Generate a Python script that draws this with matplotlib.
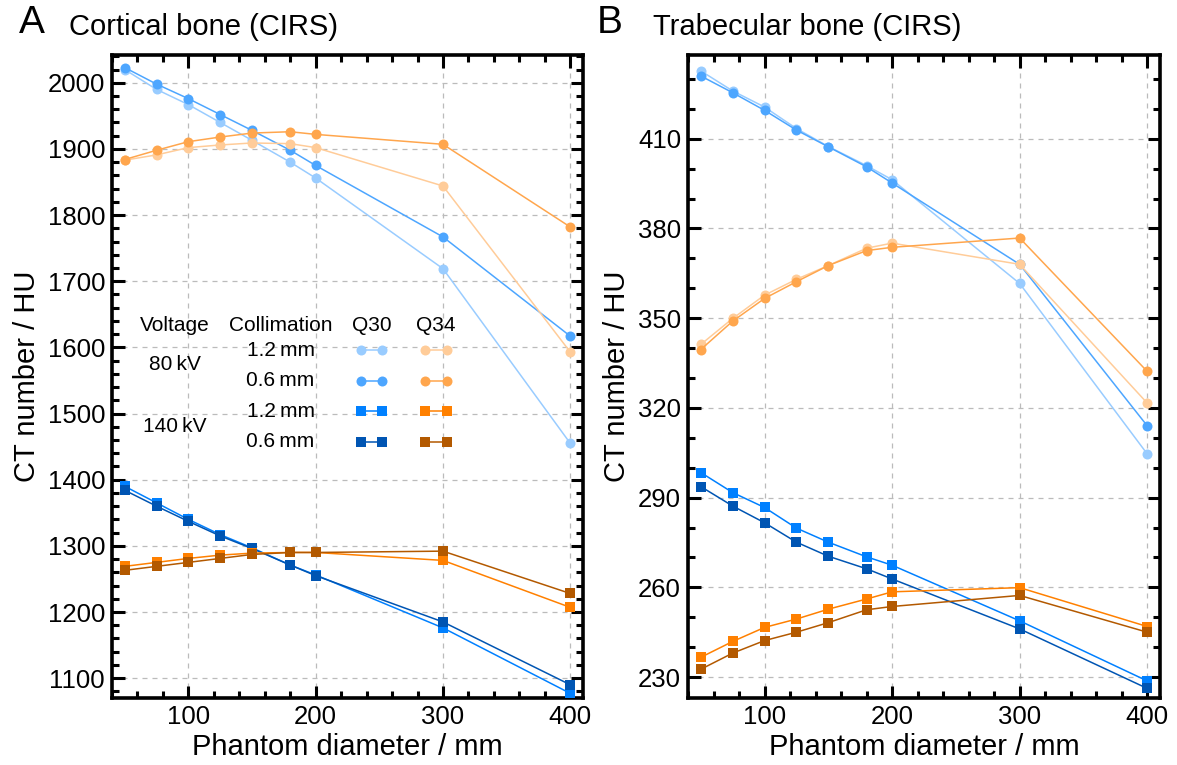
import numpy as np
import matplotlib.pyplot as plt
from matplotlib.lines import Line2D
from matplotlib.ticker import MultipleLocator

plt.rcParams['font.family'] = ['Liberation Sans', 'DejaVu Sans']

# ================= DATA =================
diameter = [50, 75, 100, 125, 150, 180, 200, 300, 400]

# Cortical bone (CIRS)
cort_q30_80_12 = [2020, 1990, 1967, 1940, 1913, 1880, 1856, 1719, 1455]
cort_q30_80_06 = [2023, 1998, 1976, 1952, 1928, 1898, 1875, 1767, 1617]
cort_q34_80_12 = [1883, 1891, 1902, 1906, 1909, 1908, 1902, 1844, 1593]
cort_q34_80_06 = [1884, 1898, 1911, 1918, 1924, 1926, 1922, 1907, 1782]
cort_q30_140_12 = [1390, 1365, 1340, 1317, 1297, 1271, 1256, 1176, 1077]
cort_q30_140_06 = [1384, 1360, 1337, 1315, 1296, 1271, 1255, 1185, 1090]
cort_q34_140_12 = [1269, 1275, 1281, 1286, 1289, 1290, 1290, 1278, 1207]
cort_q34_140_06 = [1263, 1269, 1275, 1281, 1287, 1290, 1290, 1292, 1228]

# Trabecular bone (CIRS)
trab_q30_80_12 = [432.7, 426.0, 420.6, 413.4, 407.4, 401.0, 396.3, 361.6, 304.6]
trab_q30_80_06 = [431.0, 425.4, 419.5, 412.9, 407.3, 400.6, 395.2, 368.0, 314.0]
trab_q34_80_12 = [341.2, 349.9, 357.7, 363.0, 367.6, 373.4, 375.1, 368.0, 321.6]
trab_q34_80_06 = [339.5, 349.0, 356.6, 362.2, 367.6, 372.6, 373.7, 376.8, 332.2]
trab_q30_140_12 = [298.4, 291.7, 286.7, 279.8, 275.1, 270.2, 267.4, 248.8, 228.7]
trab_q30_140_06 = [293.7, 287.2, 281.6, 275.1, 270.4, 266.2, 262.8, 246.1, 226.2]
trab_q34_140_12 = [236.6, 241.9, 246.6, 249.4, 252.7, 256.1, 258.5, 259.9, 246.9]
trab_q34_140_06 = [232.6, 238.0, 242.2, 245.0, 248.2, 252.5, 253.6, 257.3, 245.0]

cort_yticks = np.arange(1100, 2001, 100)
trab_yticks = np.arange(230, 411, 30)

# (colour, marker) per series
STYLE = {
    'q30_80_12': ('#99ccff', 'o'),
    'q30_80_06': ('#4da6ff', 'o'),
    'q34_80_12': ('#ffcc99', 'o'),
    'q34_80_06': ('#ffa64d', 'o'),
    'q30_140_12': ('#0080ff', 's'),
    'q30_140_06': ('#0055b3', 's'),
    'q34_140_12': ('#ff8000', 's'),
    'q34_140_06': ('#b35900', 's'),
}

cortical = {
    'q30_80_12': cort_q30_80_12, 'q30_80_06': cort_q30_80_06,
    'q34_80_12': cort_q34_80_12, 'q34_80_06': cort_q34_80_06,
    'q30_140_12': cort_q30_140_12, 'q30_140_06': cort_q30_140_06,
    'q34_140_12': cort_q34_140_12, 'q34_140_06': cort_q34_140_06,
}
trabecular = {
    'q30_80_12': trab_q30_80_12, 'q30_80_06': trab_q30_80_06,
    'q34_80_12': trab_q34_80_12, 'q34_80_06': trab_q34_80_06,
    'q30_140_12': trab_q30_140_12, 'q30_140_06': trab_q30_140_06,
    'q34_140_12': trab_q34_140_12, 'q34_140_06': trab_q34_140_06,
}


def draw_series(ax, data):
    for key, vals in data.items():
        col, mk = STYLE[key]
        ms = 7.2 if mk == 'o' else 6.6
        ax.plot(diameter, vals, color=col, marker=mk, markersize=ms, lw=1.1,
                markeredgewidth=0, zorder=3)


def style_axes(ax, yticks, ymin):
    ax.set_xlim(40, 410)
    ax.xaxis.set_major_locator(MultipleLocator(100))
    ax.xaxis.set_minor_locator(MultipleLocator(20))
    ax.set_yticks(yticks)
    ax.set_yticks(np.arange(yticks[0] - 5 * ymin, yticks[-1] + 5 * ymin, ymin), minor=True)
    ax.tick_params(which='both', direction='in', top=True, right=True, width=2.2,
                   labelsize=18.5, pad=5)
    ax.tick_params(which='major', length=9)
    ax.tick_params(which='minor', length=5)
    for sp in ax.spines.values():
        sp.set_linewidth(2.6)
    ax.grid(True, which='major', linestyle=(0, (4, 4)), color='#bbbbbb', lw=0.9)
    ax.set_xlabel("Phantom diameter / mm", fontsize=21, labelpad=3)
    ax.set_ylabel("CT number / HU", fontsize=21, labelpad=5)


fig = plt.figure(figsize=(11.77, 7.65), dpi=100)
axA = fig.add_axes([112 / 1177, 1 - 698 / 765, 471 / 1177, 643 / 765])
axB = fig.add_axes([688 / 1177, 1 - 698 / 765, 472 / 1177, 643 / 765])

draw_series(axA, cortical)
style_axes(axA, cort_yticks, 20)
axA.set_ylim(1070, 2042)

draw_series(axB, trabecular)
style_axes(axB, trab_yticks, 10)
axB.set_ylim(223, 438)

fig.text(19 / 1177, 1 - 23 / 765, "A", fontsize=28, va='center', ha='left')
fig.text(69 / 1177, 1 - 27 / 765, "Cortical bone (CIRS)", fontsize=21, va='center', ha='left')
fig.text(597 / 1177, 1 - 23 / 765, "B", fontsize=28, va='center', ha='left')
fig.text(653 / 1177, 1 - 27 / 765, "Trabecular bone (CIRS)", fontsize=21, va='center', ha='left')

# ---- custom legend table in panel A ----
tr = axA.transAxes
fs = 15
axA.text(0.134, 0.580, "Voltage", transform=tr, ha='center', va='center', fontsize=fs)
axA.text(0.358, 0.580, "Collimation", transform=tr, ha='center', va='center', fontsize=fs)
axA.text(0.551, 0.580, "Q30", transform=tr, ha='center', va='center', fontsize=fs)
axA.text(0.687, 0.580, "Q34", transform=tr, ha='center', va='center', fontsize=fs)
axA.text(0.134, 0.518, "80\u2009kV", transform=tr, ha='center', va='center', fontsize=fs)
axA.text(0.134, 0.423, "140\u2009kV", transform=tr, ha='center', va='center', fontsize=fs)

rows_y = [0.541, 0.4935, 0.4463, 0.3986]
rows_txt = ["1.2\u2009mm", "0.6\u2009mm", "1.2\u2009mm", "0.6\u2009mm"]
rows_q30 = ['q30_80_12', 'q30_80_06', 'q30_140_12', 'q30_140_06']
rows_q34 = ['q34_80_12', 'q34_80_06', 'q34_140_12', 'q34_140_06']
for y, txt, k30, k34 in zip(rows_y, rows_txt, rows_q30, rows_q34):
    axA.text(0.358, y, txt, transform=tr, ha='center', va='center', fontsize=fs)
    for key, xs in ((k30, [0.528, 0.574]), (k34, [0.6645, 0.7106])):
        col, mk = STYLE[key]
        ms = 7.2 if mk == 'o' else 6.6
        axA.add_line(Line2D(xs, [y, y], transform=tr, color=col, marker=mk,
                            markersize=ms, lw=1.1, markeredgewidth=0))

fig.savefig("out.png", dpi=100)
